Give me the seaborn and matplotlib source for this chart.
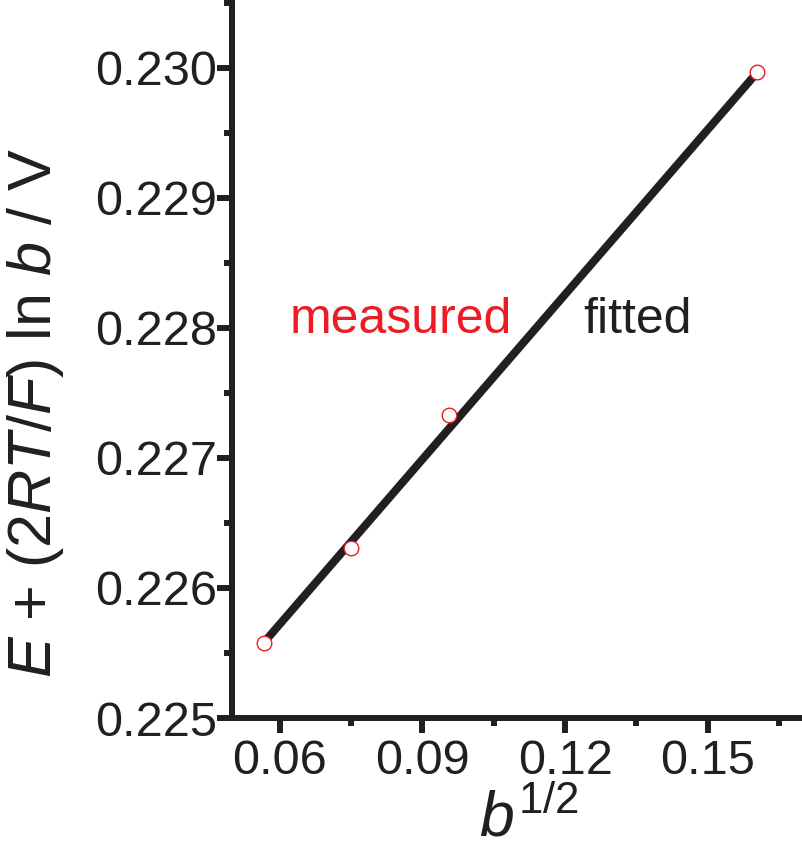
import matplotlib
matplotlib.use("Agg")
import matplotlib.pyplot as plt
import numpy as np
import pandas as pd
import seaborn as sns
from matplotlib.ticker import MultipleLocator

b_half = [0.0567, 0.0750, 0.0957, 0.1603]
e_corr = [0.22558, 0.22631, 0.22733, 0.22997]

# recta ajustada (extremos)
fit_x = [0.0567, 0.1603]
fit_y = [0.22558, 0.22996]

x_ticks = [0.06, 0.09, 0.12, 0.15]
x_labels = ["0.06", "0.09", "0.12", "0.15"]
y_ticks = [0.225, 0.226, 0.227, 0.228, 0.229, 0.230]
y_labels = ["0.225", "0.226", "0.227", "0.228", "0.229", "0.230"]

rojo = "#ED1C24"
negro = "#231F20"

sns.set_style("ticks")
plt.rcParams["font.family"] = ["Liberation Sans", "DejaVu Sans"]
plt.rcParams["mathtext.fontset"] = "custom"
plt.rcParams["mathtext.rm"] = "Liberation Sans"
plt.rcParams["mathtext.it"] = "Liberation Sans:italic"

df_med = pd.DataFrame({"x": b_half, "y": e_corr})
df_fit = pd.DataFrame({"x": fit_x, "y": fit_y})

fig = plt.figure(figsize=(8.03, 8.5), dpi=100)
ax = fig.add_axes([232 / 803, 1 - 718 / 850, 1 - 232 / 803, 718 / 850])

sns.lineplot(data=df_fit, x="x", y="y", color=negro, linewidth=5.8, ax=ax, zorder=2)
sns.scatterplot(data=df_med, x="x", y="y", s=110, facecolor="white",
                edgecolor=rojo, linewidth=1.0, ax=ax, zorder=3)

ax.set_xlim(0.05, 0.17)
ax.set_ylim(0.225, 0.23052)
ax.set_xticks(x_ticks)
ax.set_xticklabels(x_labels)
ax.set_yticks(y_ticks)
ax.set_yticklabels(y_labels)
ax.xaxis.set_minor_locator(MultipleLocator(0.015))
ax.yaxis.set_minor_locator(MultipleLocator(0.0005))

for lado in ["top", "right"]:
    ax.spines[lado].set_visible(False)
for lado in ["left", "bottom"]:
    ax.spines[lado].set_linewidth(4.3)
    ax.spines[lado].set_color(negro)

ax.tick_params(which="major", direction="out", length=11, width=4.3,
               color=negro, labelsize=35, labelcolor=negro)
ax.tick_params(axis="y", which="major", pad=0)
ax.tick_params(axis="x", which="major", pad=4)
ax.tick_params(which="minor", direction="out", length=6, width=4.3, color=negro)

ax.set_xlabel(r"$b^{1/2}$", fontsize=45, color=negro)
ax.set_ylabel(r"$E$ + (2$RT$/$F$) ln $b$ / V", fontsize=44, color=negro)
ax.yaxis.set_label_coords(-0.29, 0.425)
ax.xaxis.set_label_coords(0.52, -0.1)

ax.text(0.0621, 0.22796, "measured", color=rojo, fontsize=36)
ax.text(0.1239, 0.22796, "fitted", color=negro, fontsize=36)

plt.savefig("out.png", dpi=100)
